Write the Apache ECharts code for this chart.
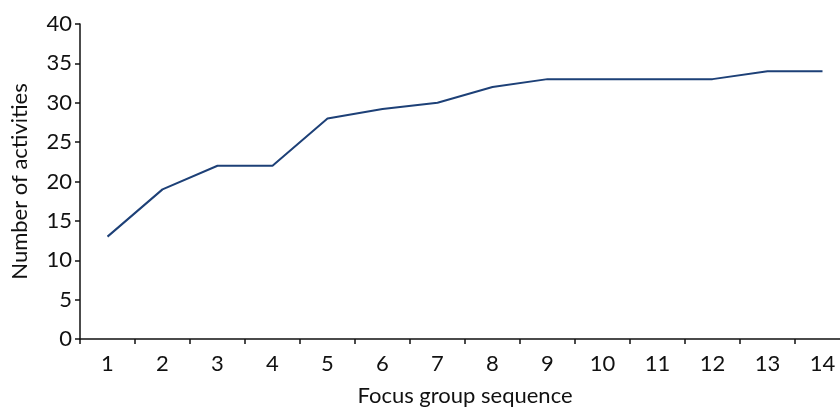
<!DOCTYPE html>
<html>
<head>
<meta charset="utf-8">
<script src="https://cdn.jsdelivr.net/npm/echarts@6/dist/echarts.min.js"></script>
<style>
  html, body { margin: 0; padding: 0; background: #fff; }
  #chart { width: 840px; height: 408px; }
</style>
</head>
<body>
<div id="chart"></div>
<script>
// focus group number along x
var sequence = ['1', '2', '3', '4', '5', '6', '7', '8', '9', '10', '11', '12', '13', '14'];
// cumulative number of activities
var activities = [13, 19, 22, 22, 28, 29.2, 30, 32, 33, 33, 33, 33, 34, 34];
var yTicks = [0, 5, 10, 15, 20, 25, 30, 35, 40];

var chart = echarts.init(document.getElementById('chart'));
var font = 'Lato, "Open Sans", sans-serif';
var option = {
    animation: false,
    grid: { left: 80, right: -10, top: 24, bottom: 69, outerBoundsMode: 'none', containLabel: false },
    xAxis: {
        type: 'category',
        data: sequence,
        boundaryGap: true,
        name: 'Focus group sequence',
        nameLocation: 'middle',
        nameGap: 46,
        nameTextStyle: { color: '#111', fontSize: 22, fontFamily: font },
        axisLine: { lineStyle: { color: '#111', width: 1.5 } },
        axisTick: { show: true, length: 5, alignWithLabel: false, lineStyle: { color: '#111', width: 1.5 } },
        axisLabel: { color: '#111', fontSize: 22, fontFamily: font, margin: 14 },
        splitLine: { show: false }
    },
    yAxis: {
        type: 'value',
        min: yTicks[0],
        max: yTicks[yTicks.length - 1],
        interval: 5,
        name: 'Number of activities',
        nameLocation: 'middle',
        nameGap: 49,
        nameTextStyle: { color: '#111', fontSize: 22, fontFamily: font },
        axisLine: { show: true, lineStyle: { color: '#111', width: 1.5 } },
        axisTick: { show: true, length: 5, lineStyle: { color: '#111', width: 1.5 } },
        axisLabel: { color: '#111', fontSize: 22, fontFamily: font, margin: 8 },
        splitLine: { show: false }
    },
    series: [{
        name: 'Activities',
        type: 'line',
        data: activities,
        symbol: 'none',
        lineStyle: { color: '#1d4077', width: 2 },
        itemStyle: { color: '#1d4077' }
    }]
};
chart.setOption(option);
</script>
</body>
</html>
